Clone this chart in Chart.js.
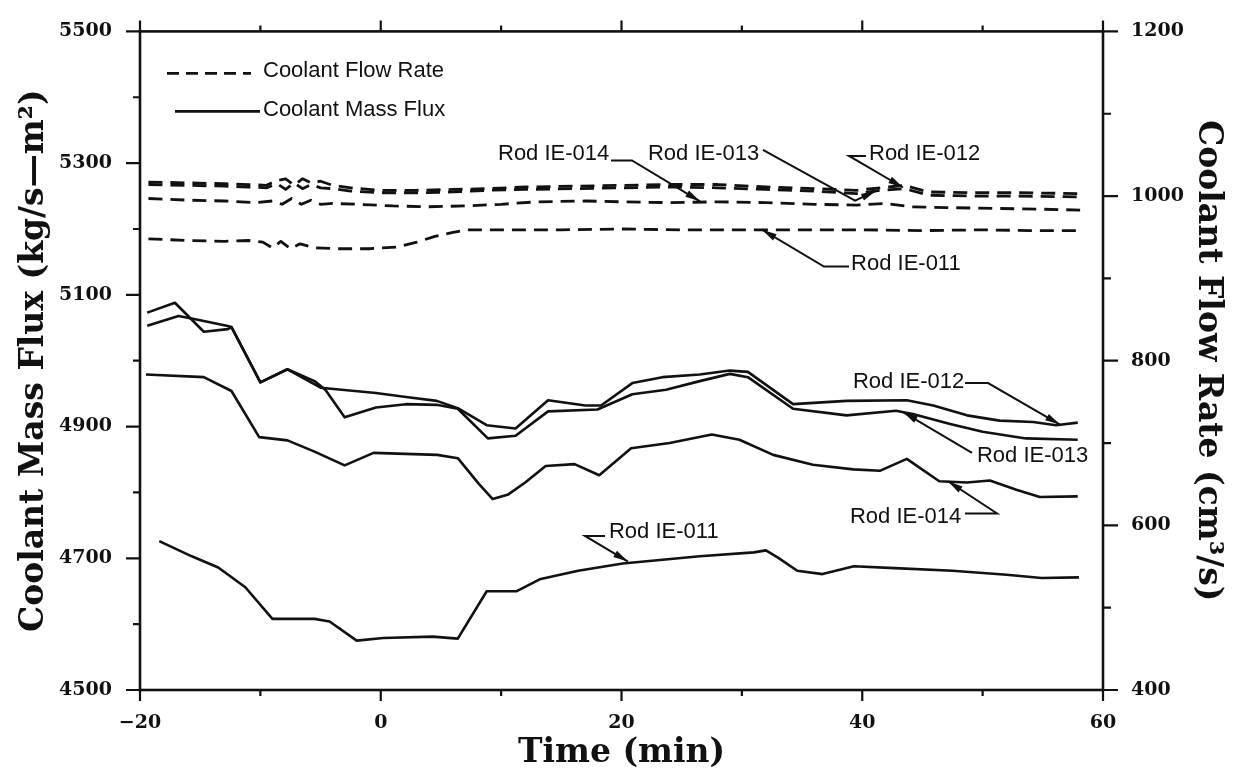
<!DOCTYPE html>
<html>
<head>
<meta charset="utf-8">
<title>Coolant mass flux and flow rate</title>
<script src="https://cdn.jsdelivr.net/npm/chart.js@4.4.1/dist/chart.umd.min.js"></script>
<style>
  html, body { margin: 0; padding: 0; background: #fff; }
  #wrap { width: 1235px; height: 773px; position: relative; }
</style>
</head>
<body>
<div id="wrap"><canvas id="fluxChart"></canvas></div>
<script>
const INK = '#111';
const SERIF = '"DejaVu Serif", "Liberation Serif", serif';
const SANS = '"Liberation Sans", Arial, sans-serif';

// coolant mass flux, kg/s-m2 (left axis)
const fluxTime012 = [-19.4, -17.1, -14.7, -12.7, -12.4, -10.0, -7.75, -5.0, -0.4, 2.1, 4.65, 6.4, 8.8, 11.2, 13.9, 17.0, 18.3, 20.9, 23.4, 26.5, 29.0, 30.5, 34.25, 38.7, 43.7, 45.9, 48.7, 51.4, 54.2, 56.1, 57.9];
const flux012 = [5073, 5088, 5044, 5048, 5051, 4967, 4987, 4959, 4951, 4945, 4939, 4928, 4902, 4897, 4940, 4932, 4932, 4966, 4975, 4979, 4985, 4983, 4934, 4939, 4940, 4932, 4917, 4909, 4907, 4902, 4906];

const fluxTime013 = [-19.4, -16.8, -15.4, -12.8, -12.4, -10.0, -7.75, -5.5, -4.6, -3.0, -0.4, 2.1, 4.65, 6.4, 8.9, 11.2, 13.9, 18.0, 20.9, 23.7, 26.5, 29.0, 30.5, 34.25, 38.7, 42.8, 44.2, 47.3, 50.0, 53.6, 57.9];
const flux013 = [5053, 5068, 5063, 5053, 5051, 4967, 4987, 4969, 4956, 4914, 4929, 4934, 4933, 4927, 4882, 4886, 4923, 4926, 4949, 4956, 4969, 4980, 4975, 4927, 4917, 4924, 4919, 4904, 4892, 4882, 4880];

const fluxTime014 = [-19.5, -14.7, -12.4, -10.1, -7.75, -5.5, -3.0, -0.6, 4.7, 6.4, 8.15, 9.3, 10.6, 12.0, 13.7, 16.1, 18.15, 20.8, 24.0, 27.5, 29.8, 32.6, 35.9, 39.25, 41.5, 43.7, 46.4, 48.7, 50.6, 52.8, 54.75, 57.9];
const flux014 = [4979, 4975, 4954, 4884, 4879, 4862, 4841, 4860, 4857, 4852, 4813, 4790, 4797, 4815, 4840, 4843, 4826, 4867, 4875, 4888, 4880, 4857, 4842, 4835, 4833, 4851, 4817, 4815, 4818, 4804, 4793, 4794];

const fluxTime011 = [-18.4, -15.7, -13.5, -11.25, -9.0, -5.5, -4.25, -2.0, 0.2, 4.3, 6.4, 8.8, 11.3, 13.2, 16.4, 20.1, 26.5, 31.0, 32.0, 33.0, 34.6, 36.7, 39.3, 42.7, 47.5, 52.0, 54.9, 58.0];
const flux011 = [4726, 4703, 4686, 4656, 4608, 4608, 4604, 4575, 4579, 4581, 4578, 4650, 4650, 4668, 4681, 4692, 4703, 4709, 4712, 4701, 4681, 4676, 4688, 4685, 4681, 4675, 4670, 4671];

// coolant flow rate, cm3/s (right axis)
const flowTimeTop = [-19.3, -16, -13, -11, -9.5, -8.6, -7.9, -7.2, -6.5, -5.8, -5.0, -4.0, -2.5, 0, 3, 6, 9, 12, 16, 20, 24, 28, 32, 36, 39.5, 41.5, 43.5, 45.5, 49, 53, 58.1];
const flow012 = [1017, 1016, 1015, 1014, 1013, 1019, 1021, 1013, 1021, 1016, 1018, 1013, 1010, 1007, 1007, 1008, 1009, 1011, 1012, 1013, 1014, 1014, 1011, 1009, 1007, 1010, 1013, 1005, 1004, 1004, 1003];
const flow013 = [1014, 1013, 1012, 1011, 1010, 1015, 1008, 1016, 1009, 1014, 1010, 1009, 1006, 1004, 1004, 1005, 1007, 1008, 1009, 1010, 1011, 1010, 1008, 1006, 1003, 1007, 1009, 1001, 1000, 1000, 999];

const flowTime014 = [-19.3, -16, -13, -10.5, -9, -8.2, -7.4, -6.6, -5.8, -5.0, -4.0, -2, 1, 4, 7, 10, 13, 17, 20, 24, 28, 32, 36, 39.5, 42, 44, 47, 51, 55, 58.1];
const flow014 = [997, 995, 994, 992, 994, 990, 997, 990, 995, 990, 991, 990, 988, 987, 988, 990, 993, 994, 993, 992, 993, 992, 990, 989, 991, 987, 986, 985, 984, 983];

const flowTime011 = [-19.3, -16, -13, -11, -9.8, -9.0, -8.3, -7.5, -6.7, -5.5, -3.5, -1, 1.3, 3, 4.5, 6, 7.2, 10, 15, 20, 25, 30, 35, 40, 45, 50, 54, 58.1];
const flow011 = [948, 946, 945, 946, 944, 937, 945, 936, 942, 937, 936, 936, 938, 944, 951, 956, 959, 959, 959, 960, 959, 959, 959, 959, 958, 959, 958, 958];

// rod call-outs: text anchor and leader path in (min, kg/s-m2), arrow at the last point
const rodNotes = [
  { text: 'Rod IE-014', at: [9.74, 5314], path: [[19.13, 5304], [20.87, 5304], [26.52, 5242]] },
  { text: 'Rod IE-013', at: [22.2, 5314], path: [[31.75, 5320], [39.4, 5243], [41.14, 5258]] },
  { text: 'Rod IE-012', at: [40.56, 5314], path: [[40.31, 5311], [38.9, 5311], [43.39, 5263]] },
  { text: 'Rod IE-011', at: [39.07, 5147], path: [[38.9, 5143], [36.82, 5143], [31.67, 5199]] },
  { text: 'Rod IE-012', at: [39.23, 4967], path: [[48.54, 4966], [50.45, 4966], [56.43, 4903]] },
  { text: 'Rod IE-013', at: [49.53, 4855], path: [[49.12, 4860], [43.39, 4922]] },
  { text: 'Rod IE-014', at: [38.98, 4763], path: [[48.54, 4768], [51.2, 4768], [47.12, 4817]] },
  { text: 'Rod IE-011', at: [18.96, 4740], path: [[18.63, 4734], [16.97, 4734], [20.54, 4695]] }
];

function pairs(ts, vs) {
  return ts.map((t, i) => ({ x: t, y: vs[i] }));
}

function fluxSet(label, ts, vs) {
  return { label, data: pairs(ts, vs), yAxisID: 'y', borderColor: INK, borderWidth: 2.6 };
}

function flowSet(label, ts, vs) {
  return { label, data: pairs(ts, vs), yAxisID: 'y2', borderColor: INK, borderWidth: 2.8, borderDash: [14, 8] };
}

// frame, outward tick marks and the little key in the corner
const frameAndKey = {
  id: 'frameAndKey',
  afterDraw(chart) {
    const { ctx, chartArea: a, scales } = chart;
    ctx.save();
    ctx.strokeStyle = INK;
    ctx.lineWidth = 2.6;
    ctx.strokeRect(a.left, a.top, a.right - a.left, a.bottom - a.top);

    ctx.lineWidth = 2.2;
    ctx.beginPath();
    for (let t = -20; t <= 60; t += 10) {
      const px = scales.x.getPixelForValue(t);
      const len = (t + 20) % 20 === 0 ? 11 : 6;
      ctx.moveTo(px, a.bottom); ctx.lineTo(px, a.bottom + len);
      ctx.moveTo(px, a.top); ctx.lineTo(px, a.top - len);
    }
    for (let v = 4500; v <= 5500; v += 100) {
      const py = scales.y.getPixelForValue(v);
      const len = (v - 4500) % 200 === 0 ? 14 : 7;
      ctx.moveTo(a.left, py); ctx.lineTo(a.left - len, py);
    }
    for (let v = 400; v <= 1200; v += 100) {
      const py = scales.y2.getPixelForValue(v);
      const len = (v - 400) % 200 === 0 ? 15 : 8;
      ctx.moveTo(a.right, py); ctx.lineTo(a.right + len, py);
    }
    ctx.stroke();

    // key
    const kx = a.left + 27;
    ctx.lineWidth = 2.6;
    ctx.setLineDash([12, 7]);
    ctx.beginPath();
    ctx.moveTo(kx, a.top + 42); ctx.lineTo(kx + 84, a.top + 42);
    ctx.stroke();
    ctx.setLineDash([]);
    ctx.beginPath();
    ctx.moveTo(kx + 8, a.top + 80); ctx.lineTo(kx + 93, a.top + 80);
    ctx.stroke();
    ctx.fillStyle = INK;
    ctx.font = '22px ' + SANS;
    ctx.textBaseline = 'middle';
    ctx.textAlign = 'left';
    ctx.fillText('Coolant Flow Rate', kx + 96, a.top + 40);
    ctx.fillText('Coolant Mass Flux', kx + 96, a.top + 79);
    ctx.restore();
  }
};

function arrowHead(ctx, from, to) {
  const ang = Math.atan2(to[1] - from[1], to[0] - from[0]);
  const len = 15, half = 3.6;
  const bx = to[0] - len * Math.cos(ang), by = to[1] - len * Math.sin(ang);
  ctx.beginPath();
  ctx.moveTo(to[0], to[1]);
  ctx.lineTo(bx + half * Math.sin(ang), by - half * Math.cos(ang));
  ctx.lineTo(bx - half * Math.sin(ang), by + half * Math.cos(ang));
  ctx.closePath();
  ctx.fill();
}

const rodLabels = {
  id: 'rodLabels',
  afterDatasetsDraw(chart) {
    const { ctx, scales } = chart;
    const px = p => [scales.x.getPixelForValue(p[0]), scales.y.getPixelForValue(p[1])];
    ctx.save();
    ctx.strokeStyle = INK;
    ctx.fillStyle = INK;
    ctx.lineWidth = 2;
    ctx.font = '22px ' + SANS;
    ctx.textBaseline = 'middle';
    ctx.textAlign = 'left';
    rodNotes.forEach(n => {
      const pts = n.path.map(px);
      ctx.beginPath();
      ctx.moveTo(pts[0][0], pts[0][1]);
      for (let i = 1; i < pts.length; i++) ctx.lineTo(pts[i][0], pts[i][1]);
      ctx.stroke();
      arrowHead(ctx, pts[pts.length - 2], pts[pts.length - 1]);
      const at = px(n.at);
      ctx.fillText(n.text, at[0], at[1]);
    });
    ctx.restore();
  }
};

const tickFont = { family: SERIF, size: 19, weight: 'bold' };
const titleFont = { family: SERIF, size: 33, weight: 'bold' };

const ctx = document.getElementById('fluxChart').getContext('2d');
const fluxChart = new Chart(ctx, {
  type: 'line',
  data: {
    datasets: [
      fluxSet('IE-012 mass flux', fluxTime012, flux012),
      fluxSet('IE-013 mass flux', fluxTime013, flux013),
      fluxSet('IE-014 mass flux', fluxTime014, flux014),
      fluxSet('IE-011 mass flux', fluxTime011, flux011),
      flowSet('IE-012 flow rate', flowTimeTop, flow012),
      flowSet('IE-013 flow rate', flowTimeTop, flow013),
      flowSet('IE-014 flow rate', flowTime014, flow014),
      flowSet('IE-011 flow rate', flowTime011, flow011)
    ]
  },
  options: {
    responsive: true,
    maintainAspectRatio: false,
    animation: false,
    layout: { padding: { top: 18 } },
    elements: {
      point: { radius: 0 },
      line: { tension: 0, borderCapStyle: 'butt', borderJoinStyle: 'round' }
    },
    plugins: {
      legend: { display: false },
      tooltip: { enabled: false }
    },
    scales: {
      x: {
        type: 'linear',
        min: -20,
        max: 60,
        grid: { display: false },
        border: { display: false },
        ticks: {
          stepSize: 20,
          padding: 14,
          color: INK,
          font: tickFont,
          callback: v => v < 0 ? '\u2212' + Math.abs(v) : String(v)
        },
        title: {
          display: true,
          text: 'Time (min)',
          color: INK,
          font: titleFont,
          padding: { top: 0, bottom: 0 }
        },
        afterFit(s) { s.height = 83; }
      },
      y: {
        position: 'left',
        min: 4500,
        max: 5500,
        grid: { display: false },
        border: { display: false },
        ticks: {
          stepSize: 200,
          padding: 20,
          color: INK,
          font: tickFont,
          callback: v => String(v)
        },
        title: {
          display: true,
          text: 'Coolant Mass Flux (kg/s\u2014m\u00b2)',
          color: INK,
          font: titleFont,
          padding: { top: 15, bottom: 0 }
        },
        afterFit(s) { s.width = 140; }
      },
      y2: {
        position: 'right',
        min: 400,
        max: 1200,
        grid: { display: false },
        border: { display: false },
        ticks: {
          stepSize: 200,
          padding: 20,
          color: INK,
          font: tickFont,
          callback: v => String(v)
        },
        title: {
          display: true,
          text: 'Coolant Flow Rate (cm\u00b3/s)',
          color: INK,
          font: titleFont,
          padding: { top: 8, bottom: 0 }
        },
        afterFit(s) { s.width = 132; }
      }
    }
  },
  plugins: [frameAndKey, rodLabels]
});
</script>
</body>
</html>
